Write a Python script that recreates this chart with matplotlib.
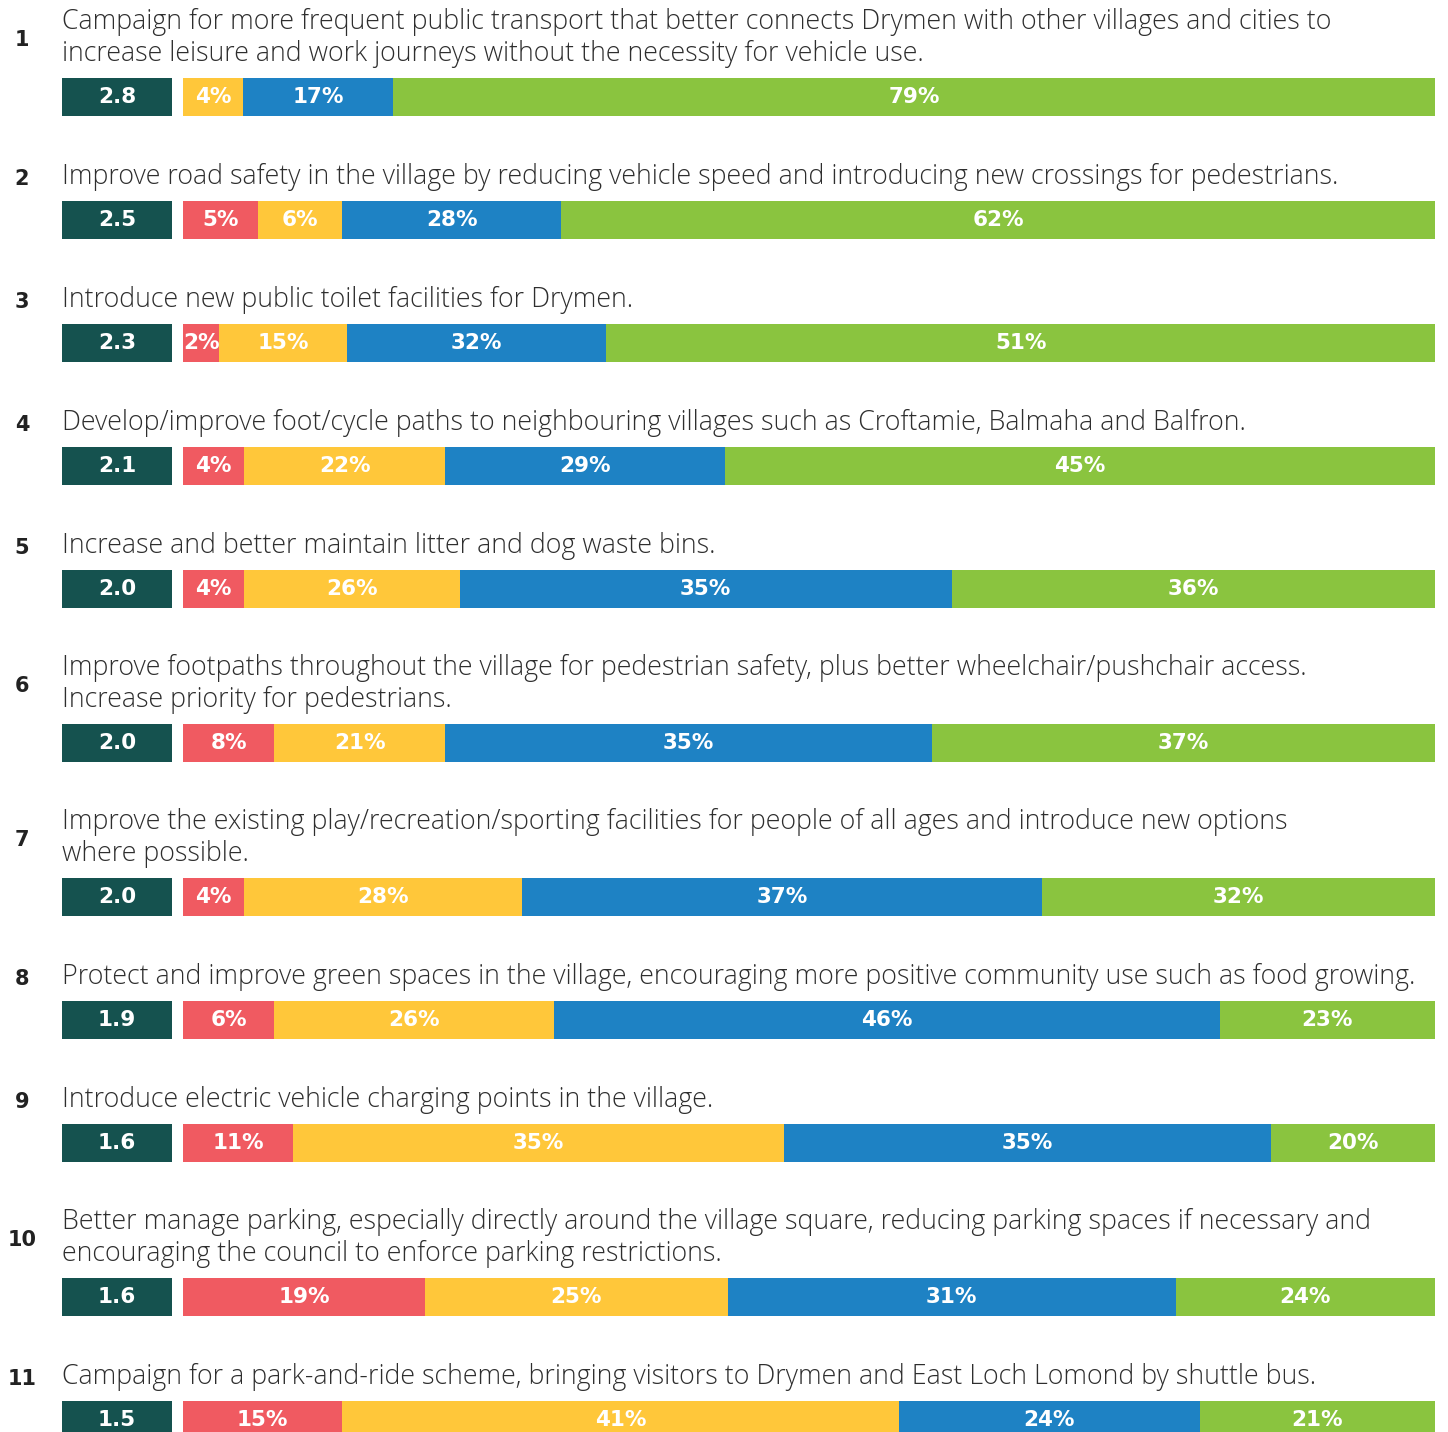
import matplotlib
matplotlib.use("Agg")
import matplotlib.pyplot as plt

# Perguntas (quebras de linha como na imagem)
questions = [
    "Campaign for more frequent public transport that better connects Drymen with other villages and cities to\nincrease leisure and work journeys without the necessity for vehicle use.",
    "Improve road safety in the village by reducing vehicle speed and introducing new crossings for pedestrians.",
    "Introduce new public toilet facilities for Drymen.",
    "Develop/improve foot/cycle paths to neighbouring villages such as Croftamie, Balmaha and Balfron.",
    "Increase and better maintain litter and dog waste bins.",
    "Improve footpaths throughout the village for pedestrian safety, plus better wheelchair/pushchair access.\nIncrease priority for pedestrians.",
    "Improve the existing play/recreation/sporting facilities for people of all ages and introduce new options\nwhere possible.",
    "Protect and improve green spaces in the village, encouraging more positive community use such as food growing.",
    "Introduce electric vehicle charging points in the village.",
    "Better manage parking, especially directly around the village square, reducing parking spaces if necessary and\nencouraging the council to enforce parking restrictions.",
    "Campaign for a park-and-ride scheme, bringing visitors to Drymen and East Loch Lomond by shuttle bus.",
]
scores = [2.8, 2.5, 2.3, 2.1, 2.0, 2.0, 2.0, 1.9, 1.6, 1.6, 1.5]

# Percentuais mostrados (vermelho, amarelo, azul, verde); None = sem segmento
pct_red = [None, 5, 2, 4, 4, 8, 4, 6, 11, 19, 15]
pct_yellow = [4, 6, 15, 22, 26, 21, 28, 26, 35, 25, 41]
pct_blue = [17, 28, 32, 29, 35, 35, 37, 46, 35, 31, 24]
pct_green = [79, 62, 51, 45, 36, 37, 32, 23, 20, 24, 21]

# Largura desenhada de cada segmento (% da barra)
share_red = [0.0, 6.0, 2.9, 4.9, 4.9, 7.3, 4.9, 7.3, 8.8, 19.3, 12.7]
share_yellow = [4.8, 6.7, 10.2, 16.0, 17.2, 13.6, 22.2, 22.3, 39.2, 24.2, 44.5]
share_blue = [12.0, 17.5, 20.7, 22.4, 39.3, 38.9, 41.5, 53.2, 38.9, 35.8, 24.0]
share_green = [83.2, 69.8, 66.2, 56.7, 38.6, 40.2, 31.4, 17.2, 13.1, 20.7, 18.8]

cores = ["#F05A61", "#FFC73A", "#1E82C4", "#8AC43F"]
teal = "#15524F"
txt_color = "#2e2e2e"

W, H = 1448, 1432
fig = plt.figure(figsize=(W / 100, H / 100), dpi=100)
ax = fig.add_axes([0, 0, 1, 1])
ax.set_xlim(0, W)
ax.set_ylim(H, 0)
ax.axis("off")

bar_x0, bar_x1 = 183, 1435
bar_len = bar_x1 - bar_x0
bar_h = 38

# posições verticais das barras
y = 97
ys = []
for i, q in enumerate(questions):
    if i > 0:
        y += 123 + 31 * q.count("\n")
    ys.append(y)

fonte_txt = dict(family=["Open Sans", "DejaVu Sans"], fontweight="light",
                 fontsize=19.3, color=txt_color)
fonte_num = dict(family="DejaVu Sans", fontweight="heavy", color="white", fontsize=15.5)

for i, q in enumerate(questions):
    yc = ys[i]
    nlin = q.count("\n") + 1
    # texto da pergunta
    y_last = yc - 43
    y_first = y_last - 32 * (nlin - 1)
    ax.text(62, (y_first + y_last) / 2, q, va="center", ha="left",
            linespacing=1.22, **fonte_txt)
    ax.text(22, (y_first + y_last) / 2 + 2, str(i + 1), va="center", ha="center",
            family="DejaVu Sans", fontweight="heavy", fontsize=15, color="#222222")

    # caixa da nota média
    ax.barh(yc, 110, left=62, height=bar_h, color=teal)
    ax.text(117, yc, f"{scores[i]:.1f}", va="center", ha="center", **fonte_num)

    # segmentos
    shares = [share_red[i], share_yellow[i], share_blue[i], share_green[i]]
    pcts = [pct_red[i], pct_yellow[i], pct_blue[i], pct_green[i]]
    tot = sum(shares)
    left = bar_x0
    for s, p, c in zip(shares, pcts, cores):
        if p is None or s == 0:
            continue
        w = s / tot * bar_len
        ax.barh(yc, w, left=left, height=bar_h, color=c, linewidth=0)
        ax.text(left + w / 2, yc, f"{p}%", va="center", ha="center", **fonte_num)
        left += w

fig.savefig("out.png", dpi=100, facecolor="white")
